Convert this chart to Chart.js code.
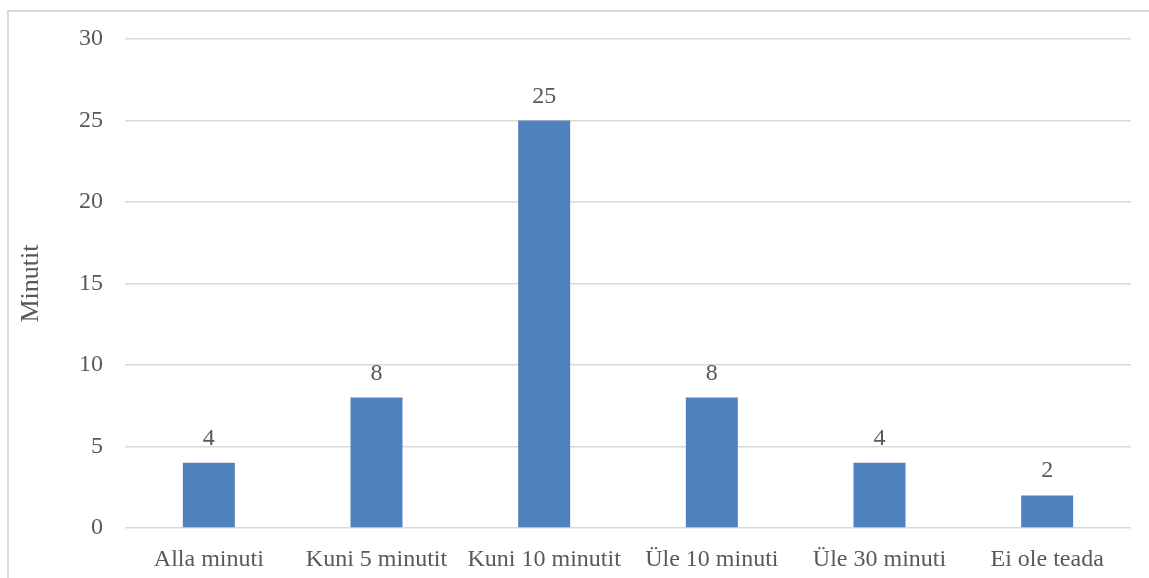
<!DOCTYPE html>
<html>
<head>
<meta charset="utf-8">
<script src="https://cdn.jsdelivr.net/npm/chart.js@4/dist/chart.umd.min.js"></script>
<style>
html,body{margin:0;padding:0;background:#fff;}
#wrap{position:relative;width:1149px;height:578px;overflow:hidden;}
#frame{position:absolute;left:7px;top:10px;width:1200px;height:700px;border:2px solid #d9d9d9;box-sizing:border-box;}
#c{position:absolute;left:0;top:0;}
</style>
</head>
<body>
<div id="wrap"><div id="frame"></div><canvas id="c" width="1149" height="578"></canvas></div>
<script>
const categories = ["Alla minuti","Kuni 5 minutit","Kuni 10 minutit","Üle 10 minuti","Üle 30 minuti","Ei ole teada"];
const values = [4, 8, 25, 8, 4, 2];
const yTicks = [0, 5, 10, 15, 20, 25, 30];
const yTitle = "Minutit";

const FONT = "'Liberation Serif','Times New Roman',serif";
const TXT = "#595959";

const labelPlugin = {
  id: 'valueLabels',
  afterDatasetsDraw(chart) {
    const ctx = chart.ctx;
    const meta = chart.getDatasetMeta(0);
    ctx.save();
    ctx.font = "24px " + FONT;
    ctx.fillStyle = TXT;
    ctx.textAlign = 'center';
    ctx.textBaseline = 'alphabetic';
    meta.data.forEach((bar, i) => {
      ctx.fillText(String(values[i]), bar.x, bar.y - 18);
    });
    ctx.restore();
  }
};

new Chart(document.getElementById('c'), {
  type: 'bar',
  data: {
    labels: categories,
    datasets: [{
      data: values,
      backgroundColor: '#4f81bd',
      borderWidth: 0,
      barPercentage: 0.62,
      categoryPercentage: 0.5
    }]
  },
  options: {
    responsive: false,
    animation: false,
    devicePixelRatio: 1,
    layout: { padding: { left: 0, right: 18, top: 39, bottom: 0 } },
    plugins: { legend: { display: false }, tooltip: { enabled: false } },
    scales: {
      x: {
        grid: { display: false },
        border: { display: false },
        ticks: { color: TXT, font: { family: FONT, size: 24 }, padding: 9, maxRotation: 0, autoSkip: false },
        afterFit(s) { s.height = 50; }
      },
      y: {
        min: 0, max: 30,
        afterBuildTicks(s) { s.ticks = yTicks.map(v => ({ value: v })); },
        grid: { color: '#d9d9d9', lineWidth: 1.5, drawTicks: false },
        border: { display: false },
        ticks: { color: TXT, font: { family: FONT, size: 24 }, padding: 22 },
        title: { display: true, text: yTitle, color: TXT, font: { family: FONT, size: 26 }, padding: { top: 16, bottom: 0 } },
        afterFit(s) { s.width = 125; }
      }
    }
  },
  plugins: [labelPlugin]
});
</script>
</body>
</html>
